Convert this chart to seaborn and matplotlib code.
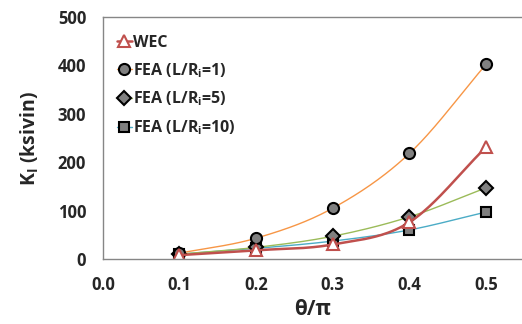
import numpy as np
import matplotlib
matplotlib.use("Agg")
import matplotlib.pyplot as plt
import seaborn as sns

# ── Data ─────────────────────────────────────────────
theta = [0.1, 0.2, 0.3, 0.4, 0.5]
wec = [8, 18, 30, 76, 231]
fea_1 = [12, 43, 105, 218, 402]
fea_5 = [10, 24, 47, 87, 147]
fea_10 = [10, 22, 37, 60, 97]

sns.set_theme(style="white")
plt.rcParams["font.family"] = ["Open Sans", "DejaVu Sans"]
plt.rcParams["font.weight"] = "bold"
plt.rcParams["mathtext.fontset"] = "custom"
plt.rcParams["mathtext.bf"] = "Open Sans:bold"
plt.rcParams["mathtext.rm"] = "Open Sans:bold"
plt.rcParams["mathtext.it"] = "Open Sans:bold"


def smooth(x, y, n=40):
    """Catmull-Rom style curve through the points (like Excel smoothed lines)"""
    x = np.asarray(x, float)
    y = np.asarray(y, float)
    px = np.concatenate([[2 * x[0] - x[1]], x, [2 * x[-1] - x[-2]]])
    py = np.concatenate([[2 * y[0] - y[1]], y, [2 * y[-1] - y[-2]]])
    xs, ys = [], []
    t = np.linspace(0, 1, n)
    for i in range(1, len(px) - 2):
        for p, out in ((px, xs), (py, ys)):
            p0, p1, p2, p3 = p[i - 1], p[i], p[i + 1], p[i + 2]
            out.append(0.5 * (2 * p1 + (-p0 + p2) * t
                              + (2 * p0 - 5 * p1 + 4 * p2 - p3) * t ** 2
                              + (-p0 + 3 * p1 - 3 * p2 + p3) * t ** 3))
    return np.concatenate(xs), np.concatenate(ys)


fig = plt.figure(figsize=(5.22, 3.24), dpi=100)
ax = fig.add_axes([0.197, 0.2006, 0.803, 0.747])

series = [
    ("WEC", wec, "#C0504D", 1.8, "^", "white", "#C0504D", 8),
    ("FEA (L/R$_\\mathbf{i}$=1)", fea_1, "#F79646", 1.0, "o", "#808080", "black", 8),
    ("FEA (L/R$_\\mathbf{i}$=5)", fea_5, "#9BBB59", 1.0, "D", "#808080", "black", 7),
    ("FEA (L/R$_\\mathbf{i}$=10)", fea_10, "#4BACC6", 1.0, "s", "#808080", "black", 7),
]

# draw FEA first so WEC line sits over them like the reference
for label, vals, color, lw, marker, mfc, mec, ms in series[::-1]:
    sx, sy = smooth(theta, vals)
    sns.lineplot(x=sx, y=sy, ax=ax, color=color, linewidth=lw, sort=False,
                 estimator=None, legend=False)
    ax.plot(theta, vals, linestyle="none", marker=marker, markersize=ms,
            markerfacecolor=mfc, markeredgecolor=mec, markeredgewidth=1.5)

handles = [
    plt.Line2D([], [], color=c, linewidth=lw, marker=m, markersize=ms,
               markerfacecolor=fc, markeredgecolor=ec, markeredgewidth=1.5)
    for _, _, c, lw, m, fc, ec, ms in series
]
ax.legend(handles, [s[0] for s in series], loc="upper left",
          bbox_to_anchor=(0.0, 0.985), frameon=False, handlelength=0.9,
          handletextpad=0.1, labelspacing=0.62,
          prop={"family": "Open Sans", "weight": "bold", "size": 11.5})

ax.set_xlim(0, 0.547)
ax.set_ylim(0, 500)
ax.set_xticks([0.0, 0.1, 0.2, 0.3, 0.4, 0.5])
ax.set_xticklabels(["0.0", "0.1", "0.2", "0.3", "0.4", "0.5"])
ax.set_yticks([0, 100, 200, 300, 400, 500])
ax.tick_params(axis="both", length=0, labelsize=12, pad=12)
for lab in ax.get_xticklabels() + ax.get_yticklabels():
    lab.set_fontweight("bold")

ax.set_xlabel("θ/π", fontsize=15, fontweight="bold", labelpad=4)
ax.set_ylabel("K$_\\mathbf{I}$ (ksivin)", fontsize=14, fontweight="bold",
              labelpad=12)

for side in ["left", "bottom", "top"]:
    ax.spines[side].set_color("#868686")
    ax.spines[side].set_linewidth(1.0)
ax.spines["right"].set_visible(False)

fig.savefig("out.png", dpi=100)
